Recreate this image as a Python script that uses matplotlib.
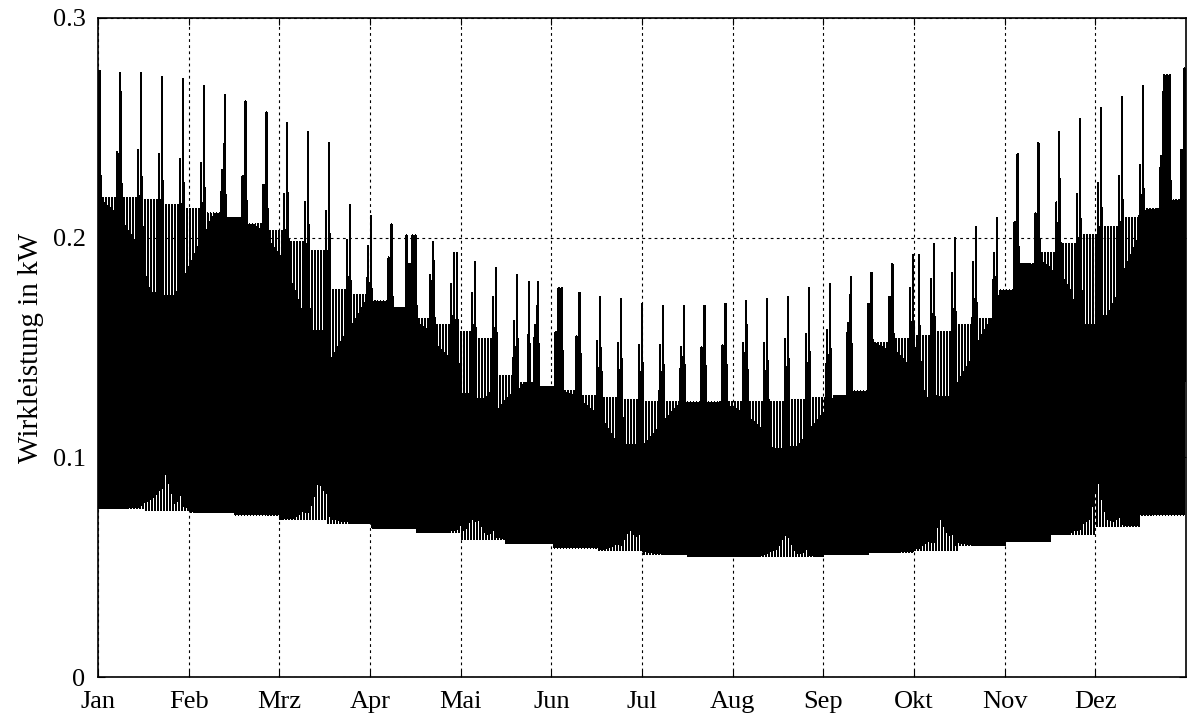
import numpy as np
import matplotlib.pyplot as plt

plt.rcParams['font.family'] = ['Liberation Serif', 'DejaVu Serif']

months = ['Jan', 'Feb', 'Mrz', 'Apr', 'Mai', 'Jun', 'Jul', 'Aug', 'Sep', 'Okt', 'Nov', 'Dez']

# Sunday peak (kW), one value per Sunday (day 7k), k = 0..52
sun_peak = [0.276, 0.275, 0.275, 0.273, 0.272, 0.269, 0.265, 0.262, 0.257, 0.252,
            0.248, 0.243, 0.215, 0.210, 0.206, 0.201, 0.198, 0.193, 0.189, 0.186,
            0.183, 0.180, 0.177, 0.175, 0.173, 0.172, 0.170, 0.169, 0.169, 0.169,
            0.170, 0.171, 0.172, 0.173, 0.177, 0.179, 0.182, 0.184, 0.188, 0.192,
            0.197, 0.200, 0.205, 0.209, 0.238, 0.243, 0.248, 0.254, 0.259, 0.264,
            0.269, 0.274, 0.277]
# Saturday peak (kW), Saturday before Sunday k (day 7k-1), k = 1..52
sat_peak = [0.239, 0.240, 0.238, 0.236, 0.234, 0.231, 0.228, 0.224, 0.220, 0.216,
            0.212, 0.199, 0.196, 0.191, 0.188, 0.183, 0.179, 0.175, 0.173, 0.162,
            0.160, 0.157, 0.155, 0.153, 0.152, 0.151, 0.151, 0.150, 0.150, 0.151,
            0.152, 0.152, 0.154, 0.156, 0.158, 0.161, 0.170, 0.173, 0.177, 0.181,
            0.184, 0.189, 0.193, 0.207, 0.211, 0.216, 0.220, 0.225, 0.228, 0.233,
            0.237, 0.240]
# weekday (Mon-Fri) daily maximum (kW), week k = 0..51
wd_peak = [0.218, 0.218, 0.217, 0.215, 0.213, 0.211, 0.209, 0.206, 0.203, 0.198,
           0.194, 0.176, 0.174, 0.171, 0.168, 0.163, 0.160, 0.157, 0.154, 0.137,
           0.134, 0.132, 0.130, 0.128, 0.127, 0.126, 0.125, 0.125, 0.125, 0.125,
           0.125, 0.125, 0.125, 0.126, 0.127, 0.128, 0.130, 0.152, 0.154, 0.155,
           0.157, 0.160, 0.163, 0.176, 0.188, 0.193, 0.197, 0.201, 0.205, 0.209,
           0.213, 0.217]
# night minimum (kW), one value per half month
night_min = [0.077, 0.076, 0.075, 0.074, 0.072, 0.070, 0.068, 0.066,
             0.063, 0.061, 0.059, 0.058, 0.056, 0.055, 0.055, 0.055,
             0.056, 0.057, 0.058, 0.060, 0.062, 0.065, 0.069, 0.074]
# holidays (day of year, 0 = 1 Jan), treated like Sundays
holidays = [0, 103, 106, 120, 144, 155, 275, 358, 359]

# hourly shape between night minimum (0) and daily maximum (1)
shape_wd = [0.10, 0.02, 0.0, 0.0, 0.0, 0.0, 0.05, 0.45, 0.60, 0.55, 0.55, 0.60,
            0.70, 0.65, 0.55, 0.50, 0.55, 0.70, 0.90, 1.00, 0.95, 0.85, 0.60, 0.30]
shape_sat = [0.12, 0.03, 0.0, 0.0, 0.0, 0.0, 0.03, 0.25, 0.55, 0.70, 0.80, 0.87,
             1.00, 0.80, 0.65, 0.60, 0.62, 0.70, 0.82, 0.87, 0.85, 0.78, 0.55, 0.30]
shape_sun = [0.15, 0.05, 0.0, 0.0, 0.0, 0.0, 0.02, 0.12, 0.35, 0.55, 0.70, 0.76,
             1.00, 0.70, 0.55, 0.50, 0.52, 0.58, 0.68, 0.74, 0.76, 0.70, 0.50, 0.30]

x = []
y = []
for d in range(365):
    base = night_min[min(int(d / (365 / 24)), 23)]
    if d % 7 == 0 or d in holidays:
        top = sun_peak[min(int(round(d / 7)), 52)]
        shape = shape_sun
    elif d % 7 == 6:
        top = sat_peak[(d + 1) // 7 - 1]
        shape = shape_sat
    else:
        top = wd_peak[d // 7]
        shape = shape_wd
    for h in range(24):
        x.append(d + h / 24)
        y.append(base + (top - base) * shape[h])

fig = plt.figure(figsize=(11.89, 7.15), dpi=100)
ax = fig.add_axes([98 / 1189, 38 / 715, 1088 / 1189, 659 / 715])
ax.plot(x, y, color='k', lw=0.9, antialiased=False, zorder=2)

ax.set_xlim(0, 365)
ax.set_ylim(0, 0.3)
ax.set_xticks([i * 365 / 12 for i in range(12)])
ax.set_xticklabels(months)
ax.set_yticks([0, 0.1, 0.2, 0.3])
ax.set_yticklabels(['0', '0.1', '0.2', '0.3'])
ax.tick_params(direction='in', length=5, labelsize=19, top=True, right=True)
ax.tick_params(axis='x', pad=10)
ax.tick_params(axis='y', pad=9)
ax.set_ylabel('Wirkleistung in kW', fontsize=21, labelpad=6)
ax.grid(True, color='k', linestyle=(0, (2.5, 3)), linewidth=0.8, zorder=3)
for s in ax.spines.values():
    s.set_linewidth(1.2)

fig.savefig('out.png', dpi=100)
